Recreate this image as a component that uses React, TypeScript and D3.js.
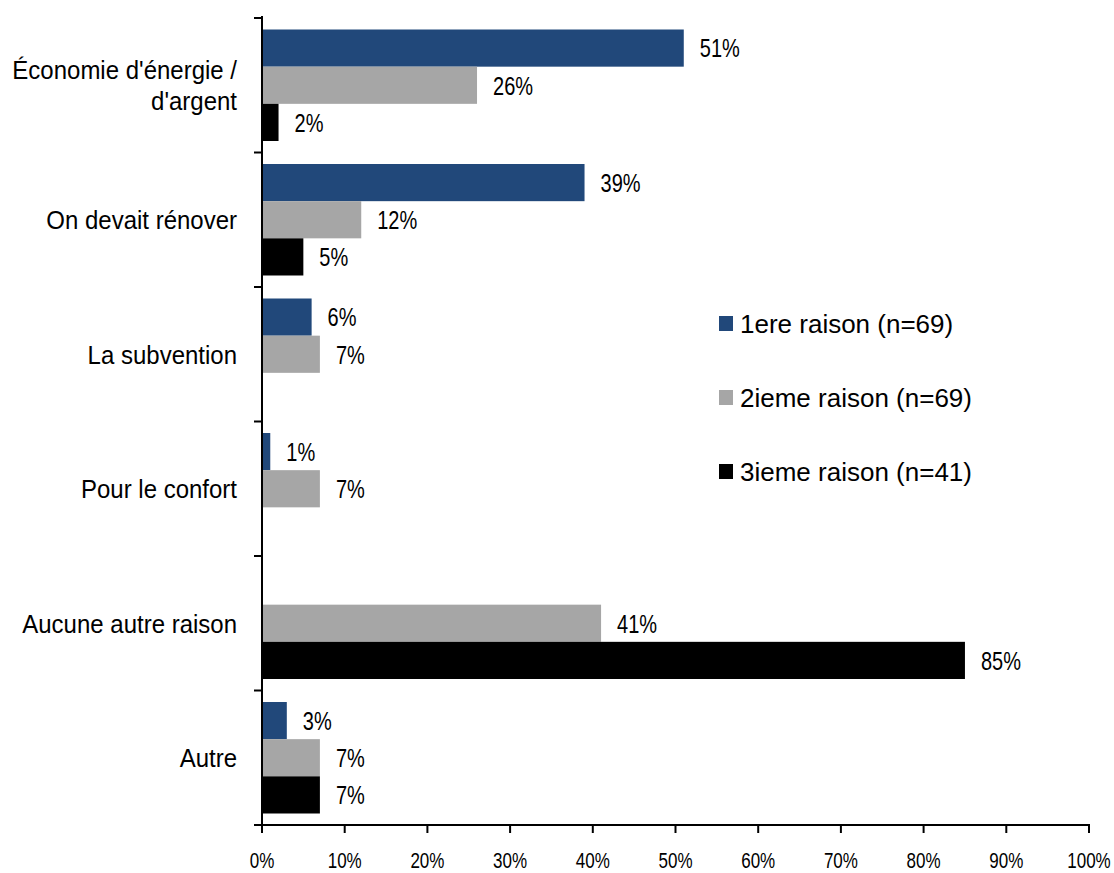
import React from "react";
import * as d3 from "d3";

const categories: string[][] = [
  ["Économie d'énergie /", "d'argent"],
  ["On devait rénover"],
  ["La subvention"],
  ["Pour le confort"],
  ["Aucune autre raison"],
  ["Autre"],
];
const series = ["1ere raison (n=69)", "2ieme raison (n=69)", "3ieme raison (n=41)"];
const colors = ["#21487A", "#A6A6A6", "#000000"];
const first: (number | null)[] = [51, 39, 6, 1, null, 3];
const second: (number | null)[] = [26, 12, 7, 7, 41, 7];
const third: (number | null)[] = [2, 5, null, null, 85, 7];
const ticks = [0, 10, 20, 30, 40, 50, 60, 70, 80, 90, 100];

const W = 1114;
const H = 873;
const FONT = "'Liberation Sans', Arial, sans-serif";

export default function App() {
  const x = d3.scaleLinear().domain([0, 100]).range([262, 1089]);
  const idx = categories.map((_, i) => String(i));
  const y = d3.scaleBand().domain(idx).range([18, 825]).paddingInner(0).paddingOuter(0);
  const groupPad = 11.5;
  const y1 = d3
    .scaleBand()
    .domain(["0", "1", "2"])
    .range([groupPad, y.bandwidth() - groupPad]);
  const data = [first, second, third];

  const boundaries = d3.range(categories.length + 1).map((i) =>
    i < categories.length ? (y(String(i)) as number) : 825
  );

  return (
    <svg
      width={W}
      height={H}
      style={{ position: "absolute", left: 0, top: 0, background: "#fff" }}
      fontFamily={FONT}
    >
      {/* bars */}
      {categories.map((_, ci) =>
        data.map((s, si) => {
          const v = s[ci];
          if (v === null) return null;
          const y0 = (y(String(ci)) as number) + (y1(String(si)) as number);
          const bh = y1.bandwidth();
          return (
            <g key={`${ci}-${si}`}>
              <rect x={x(0)} y={y0} width={x(v) - x(0)} height={bh} fill={colors[si]} />
              <text
                transform={`translate(${x(v) + 16},${y0 + bh / 2 + 1}) scale(1,1.25)`}
                fontSize={20}
                dominantBaseline="central"
                fill="#000"
              >
                {v}%
              </text>
            </g>
          );
        })
      )}

      {/* y axis */}
      <line x1={262} x2={262} y1={16} y2={826} stroke="#000" strokeWidth={2} />
      {boundaries.map((b, i) => (
        <line key={i} x1={254} x2={262} y1={b} y2={b} stroke="#000" strokeWidth={2} />
      ))}
      {/* x axis */}
      <line x1={254} x2={x(100) + 1} y1={825} y2={825} stroke="#000" strokeWidth={2} />
      {ticks.map((t) => (
        <g key={t}>
          <line x1={x(t)} x2={x(t)} y1={825} y2={833} stroke="#000" strokeWidth={2} />
          <text
            transform={`translate(${x(t)},${861}) scale(1,1.25)`}
            fontSize={17}
            textAnchor="middle"
            dominantBaseline="central"
          >
            {t}%
          </text>
        </g>
      ))}

      {/* category labels */}
      {categories.map((lines, ci) => {
        const cy = (y(String(ci)) as number) + y.bandwidth() / 2;
        return lines.map((l, li) => (
          <text
            key={`${ci}-${li}`}
            transform={`translate(237,${cy + (li - (lines.length - 1) / 2) * 31}) scale(1,1.08)`}
            fontSize={24}
            textAnchor="end"
            dominantBaseline="central"
          >
            {l}
          </text>
        ));
      })}

      {/* legend */}
      {series.map((s, i) => {
        const cy = 323 + i * 74;
        return (
          <g key={s}>
            <rect x={719} y={cy - 7} width={14} height={15} fill={colors[i]} />
            <text x={740} y={cy + 1} fontSize={26} dominantBaseline="central">
              {s}
            </text>
          </g>
        );
      })}
    </svg>
  );
}
